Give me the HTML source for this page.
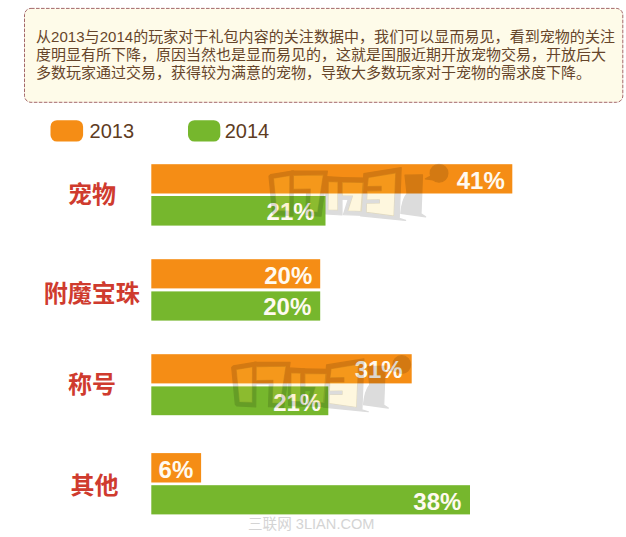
<!DOCTYPE html>
<html><head><meta charset="utf-8"><title>chart</title>
<style>html,body{margin:0;padding:0;background:#fff;font-family:"Liberation Sans",sans-serif}svg{display:block}</style></head>
<body>
<svg width="626" height="537" viewBox="0 0 626 537">
<rect width="626" height="537" fill="#fff"/>
<rect x="24.5" y="8.4" width="598.3" height="93.9" rx="6.5" ry="6.5" fill="#fefbe9" stroke="#9a575a" stroke-width="0.9" stroke-dasharray="3.6 1.4"/>
<g font-family="'Liberation Sans', 'Noto Sans CJK SC', sans-serif" fill="#66452a">
<text x="36" y="41.5" font-size="15" textLength="579" lengthAdjust="spacing">从2013与2014的玩家对于礼包内容的关注数据中，我们可以显而易见，看到宠物的关注</text>
<text x="36" y="59.5" font-size="15">度明显有所下降，原因当然也是显而易见的，这就是国服近期开放宠物交易，开放后大</text>
<text x="36" y="77.5" font-size="15">多数玩家通过交易，获得较为满意的宠物，导致大多数玩家对于宠物的需求度下降。</text>
</g>
<rect x="50.5" y="120.2" width="32.6" height="21.4" rx="6.5" fill="#f58d15"/>
<rect x="188" y="120.2" width="32.3" height="21.4" rx="6.5" fill="#76b72d"/>
<g font-family="'Liberation Sans', 'Noto Sans CJK SC', sans-serif" fill="#5e3c1f">
<text x="89.6" y="138" font-size="20">2013</text><text x="224.7" y="138" font-size="20">2014</text>
</g>
<rect x="151.3" y="164.2" width="361" height="29.3" fill="#f58d15"/>
<rect x="151.3" y="196" width="174.2" height="29.6" fill="#76b72d"/>
<rect x="151.3" y="259.2" width="168.9" height="29.2" fill="#f58d15"/>
<rect x="151.3" y="291.4" width="168.9" height="29.2" fill="#76b72d"/>
<rect x="151.3" y="354.2" width="260.4" height="29.2" fill="#f58d15"/>
<rect x="151.3" y="386.4" width="177" height="28.8" fill="#76b72d"/>
<rect x="151.3" y="453.1" width="49.8" height="29.4" fill="#f58d15"/>
<rect x="151.3" y="485.2" width="318.7" height="29.2" fill="#76b72d"/>
<g font-family="'Liberation Sans', 'Noto Sans CJK SC', sans-serif" fill="#fffaf0" font-size="24" font-weight="bold" text-anchor="end">
<text x="504.8" y="188.5">41%</text>
<text x="314.6" y="219.5">21%</text>
<text x="312.3" y="283.5">20%</text>
<text x="311.3" y="315.3">20%</text>
<text x="402.7" y="378.3">31%</text>
<text x="321.2" y="410.6">21%</text>
<text x="193.3" y="477.5">6%</text>
<text x="461.4" y="509.7">38%</text>
</g>
<g font-family="'Liberation Sans', 'Noto Sans CJK SC', sans-serif" fill="#cf3b2e" font-size="24" font-weight="bold">
<text x="67.9" y="202.7">宠物</text>
<text x="43.8" y="301.5">附魔宝珠</text>
<text x="68.1" y="392.8">称号</text>
<text x="70.6" y="493.7">其他</text>
</g>
<g><g fill="#000" stroke="#000" stroke-width="1.2" stroke-linejoin="round" opacity="0.135"><path fill-rule="evenodd" d="M269,176.2 L270.6,174.6 L293.4,170.8 L293,215.6 L274,214.6 L272.6,213ZM273.4,178.2 L289.9,175.4 L289.7,211.4 L276.6,210.7Z"/><path fill-rule="evenodd" d="M291.5,171 L327.4,171 L321,216.2 L305.8,215.4 L306.6,192.4 L292,192.6ZM293.3,175.3 L323.4,174.8 L317.7,212.2 L309.5,211.8 L310.3,189 L293.3,189.4Z"/><path fill-rule="evenodd" d="M325.5,176.6 L342,177.6 L342,215 L325.9,214ZM328.3,181.4 L338,181.8 L337.9,210.4 L327.9,210Z"/><path fill-rule="evenodd" d="M340,177.6 L366,178 L365.6,215.4 L343.4,214.6 L348.2,199.4 L340,199.2ZM341.9,182 L363.9,182.4 L361.8,211.6 L347.6,211 L352.4,196 L341.9,195.8Z"/><path fill-rule="evenodd" d="M363.9,173.6 L401.2,167.6 L399.2,218.4 L405.6,220.4 L360.6,215.8ZM368.3,177.4 L395.8,172.8 L394,216.2 L366.2,212.4 L366.4,203.2 L379.4,203 L379.4,199.8 L366.6,200 L367,190.8 L381.2,190.6 L381.2,186.4 L367.2,186.6Z"/><path d="M405,175.2 L422.5,174.8 L421,213.8 L425.6,216.8 L400.8,213.4 C401.6,204.5 403.4,198 407,193.6 Z"/><circle cx="439" cy="173.3" r="8.9"/><path d="M431.6,175.6 L425.4,178.9 L433.2,179.9Z"/></g><path fill="#fad23c" opacity="0.17" d="M273.4,178.2 L289.9,175.4 L289.7,211.4 L276.6,210.7ZM293.3,175.3 L323.4,174.8 L317.7,212.2 L309.5,211.8 L310.3,189 L293.3,189.4ZM328.3,181.4 L338,181.8 L337.9,210.4 L327.9,210ZM341.9,182 L363.9,182.4 L361.8,211.6 L347.6,211 L352.4,196 L341.9,195.8ZM368.3,177.4 L395.8,172.8 L394,216.2 L366.2,212.4 L366.4,203.2 L379.4,203 L379.4,199.8 L366.6,200 L367,190.8 L381.2,190.6 L381.2,186.4 L367.2,186.6Z"/></g>
<g transform="translate(-37.3,191.3)"><g fill="#000" stroke="#000" stroke-width="1.2" stroke-linejoin="round" opacity="0.135"><path fill-rule="evenodd" d="M269,176.2 L270.6,174.6 L293.4,170.8 L293,215.6 L274,214.6 L272.6,213ZM273.4,178.2 L289.9,175.4 L289.7,211.4 L276.6,210.7Z"/><path fill-rule="evenodd" d="M291.5,171 L327.4,171 L321,216.2 L305.8,215.4 L306.6,192.4 L292,192.6ZM293.3,175.3 L323.4,174.8 L317.7,212.2 L309.5,211.8 L310.3,189 L293.3,189.4Z"/><path fill-rule="evenodd" d="M325.5,176.6 L342,177.6 L342,215 L325.9,214ZM328.3,181.4 L338,181.8 L337.9,210.4 L327.9,210Z"/><path fill-rule="evenodd" d="M340,177.6 L366,178 L365.6,215.4 L343.4,214.6 L348.2,199.4 L340,199.2ZM341.9,182 L363.9,182.4 L361.8,211.6 L347.6,211 L352.4,196 L341.9,195.8Z"/><path fill-rule="evenodd" d="M363.9,173.6 L401.2,167.6 L399.2,218.4 L405.6,220.4 L360.6,215.8ZM368.3,177.4 L395.8,172.8 L394,216.2 L366.2,212.4 L366.4,203.2 L379.4,203 L379.4,199.8 L366.6,200 L367,190.8 L381.2,190.6 L381.2,186.4 L367.2,186.6Z"/><path d="M405,175.2 L422.5,174.8 L421,213.8 L425.6,216.8 L400.8,213.4 C401.6,204.5 403.4,198 407,193.6 Z"/><circle cx="439" cy="173.3" r="8.9"/><path d="M431.6,175.6 L425.4,178.9 L433.2,179.9Z"/></g><path fill="#fad23c" opacity="0.17" d="M273.4,178.2 L289.9,175.4 L289.7,211.4 L276.6,210.7ZM293.3,175.3 L323.4,174.8 L317.7,212.2 L309.5,211.8 L310.3,189 L293.3,189.4ZM328.3,181.4 L338,181.8 L337.9,210.4 L327.9,210ZM341.9,182 L363.9,182.4 L361.8,211.6 L347.6,211 L352.4,196 L341.9,195.8ZM368.3,177.4 L395.8,172.8 L394,216.2 L366.2,212.4 L366.4,203.2 L379.4,203 L379.4,199.8 L366.6,200 L367,190.8 L381.2,190.6 L381.2,186.4 L367.2,186.6Z"/></g>
<text x="248" y="529" font-size="14.6" fill="#d4d4d4" font-family="'Liberation Sans', 'Noto Sans CJK SC', sans-serif">三联网 3LIAN.COM</text>
</svg>
</body></html>
